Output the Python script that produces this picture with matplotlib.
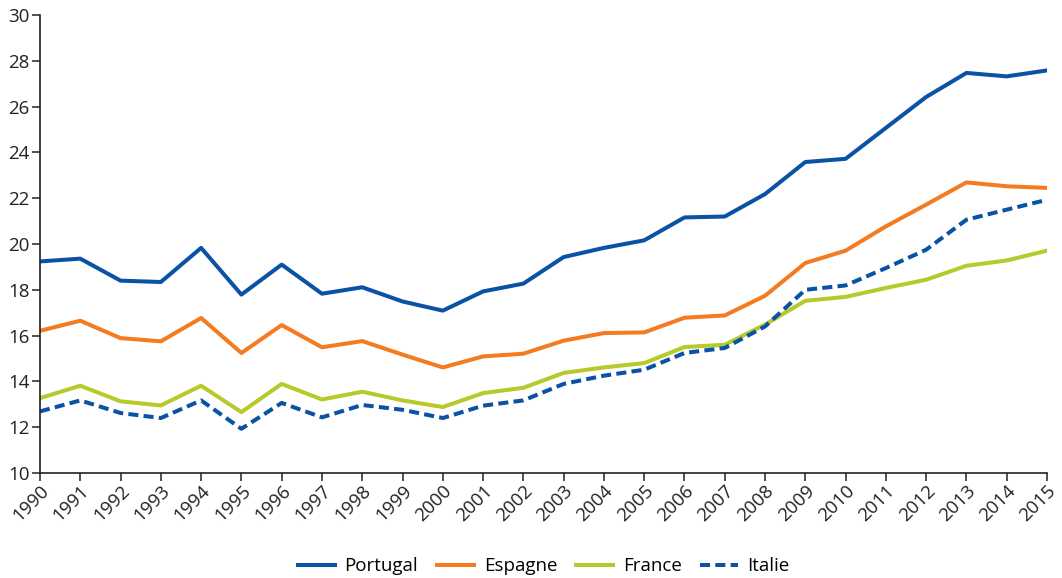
import matplotlib.pyplot as plt
import numpy as np

plt.rcParams['font.family'] = ['Open Sans', 'DejaVu Sans']

years = list(range(1990, 2016))

portugal = [19.24, 19.36, 18.40, 18.34, 19.83, 17.79, 19.10, 17.83, 18.11, 17.49,
            17.09, 17.93, 18.27, 19.43, 19.83, 20.16, 21.16, 21.20, 22.18, 23.58,
            23.72, 25.07, 26.42, 27.47, 27.32, 27.58]
espagne = [16.21, 16.65, 15.89, 15.75, 16.77, 15.24, 16.46, 15.49, 15.76, 15.17,
           14.61, 15.09, 15.21, 15.78, 16.11, 16.14, 16.78, 16.88, 17.74, 19.17,
           19.71, 20.77, 21.72, 22.69, 22.52, 22.45]
france = [13.27, 13.81, 13.13, 12.95, 13.81, 12.66, 13.89, 13.21, 13.55, 13.17,
          12.88, 13.49, 13.72, 14.37, 14.61, 14.80, 15.50, 15.60, 16.48, 17.52,
          17.69, 18.08, 18.44, 19.05, 19.28, 19.71]
italie = [12.69, 13.17, 12.62, 12.40, 13.17, 11.93, 13.06, 12.43, 12.97, 12.76,
          12.40, 12.94, 13.17, 13.89, 14.25, 14.51, 15.24, 15.46, 16.40, 18.00,
          18.19, 18.95, 19.75, 21.06, 21.50, 21.93]

blue = '#0a52a5'
orange = '#f47b20'
lime = '#b7c92b'

fig = plt.figure(figsize=(10.62, 5.78), dpi=100)
ax = fig.add_axes([40/1062, 1-473/578, 1007/1062, 458/578])

lw = 2.9
ax.plot(years, portugal, color=blue, lw=lw, label='Portugal')
ax.plot(years, espagne, color=orange, lw=lw, label='Espagne')
ax.plot(years, france, color=lime, lw=lw, label='France')
ax.plot(years, italie, color=blue, lw=lw, ls=(0, (2.5, 1.3)), label='Italie')

ax.set_xlim(1990, 2015)
ax.set_ylim(10, 30)
ax.set_xticks(years)
ax.set_xticklabels([str(y) for y in years], rotation=45, ha='right',
                   rotation_mode='anchor')
ax.set_yticks(np.arange(10, 31, 2))

for s in ['top', 'right']:
    ax.spines[s].set_visible(False)
for s in ['left', 'bottom']:
    ax.spines[s].set_color('#222222')
    ax.spines[s].set_linewidth(1.2)
ax.tick_params(axis='both', direction='out', length=5.5, width=1.1,
               color='#222222', labelsize=13.5, labelcolor='#222222')
ax.tick_params(axis='y', pad=2)
ax.tick_params(axis='x', pad=1)

ax.legend(loc='lower center', bbox_to_anchor=(0.5, -0.24), ncol=4,
          frameon=False, fontsize=13.5, handlelength=2.0, columnspacing=1.0,
          handletextpad=0.5, borderaxespad=0)

plt.savefig('out.png', dpi=100)
